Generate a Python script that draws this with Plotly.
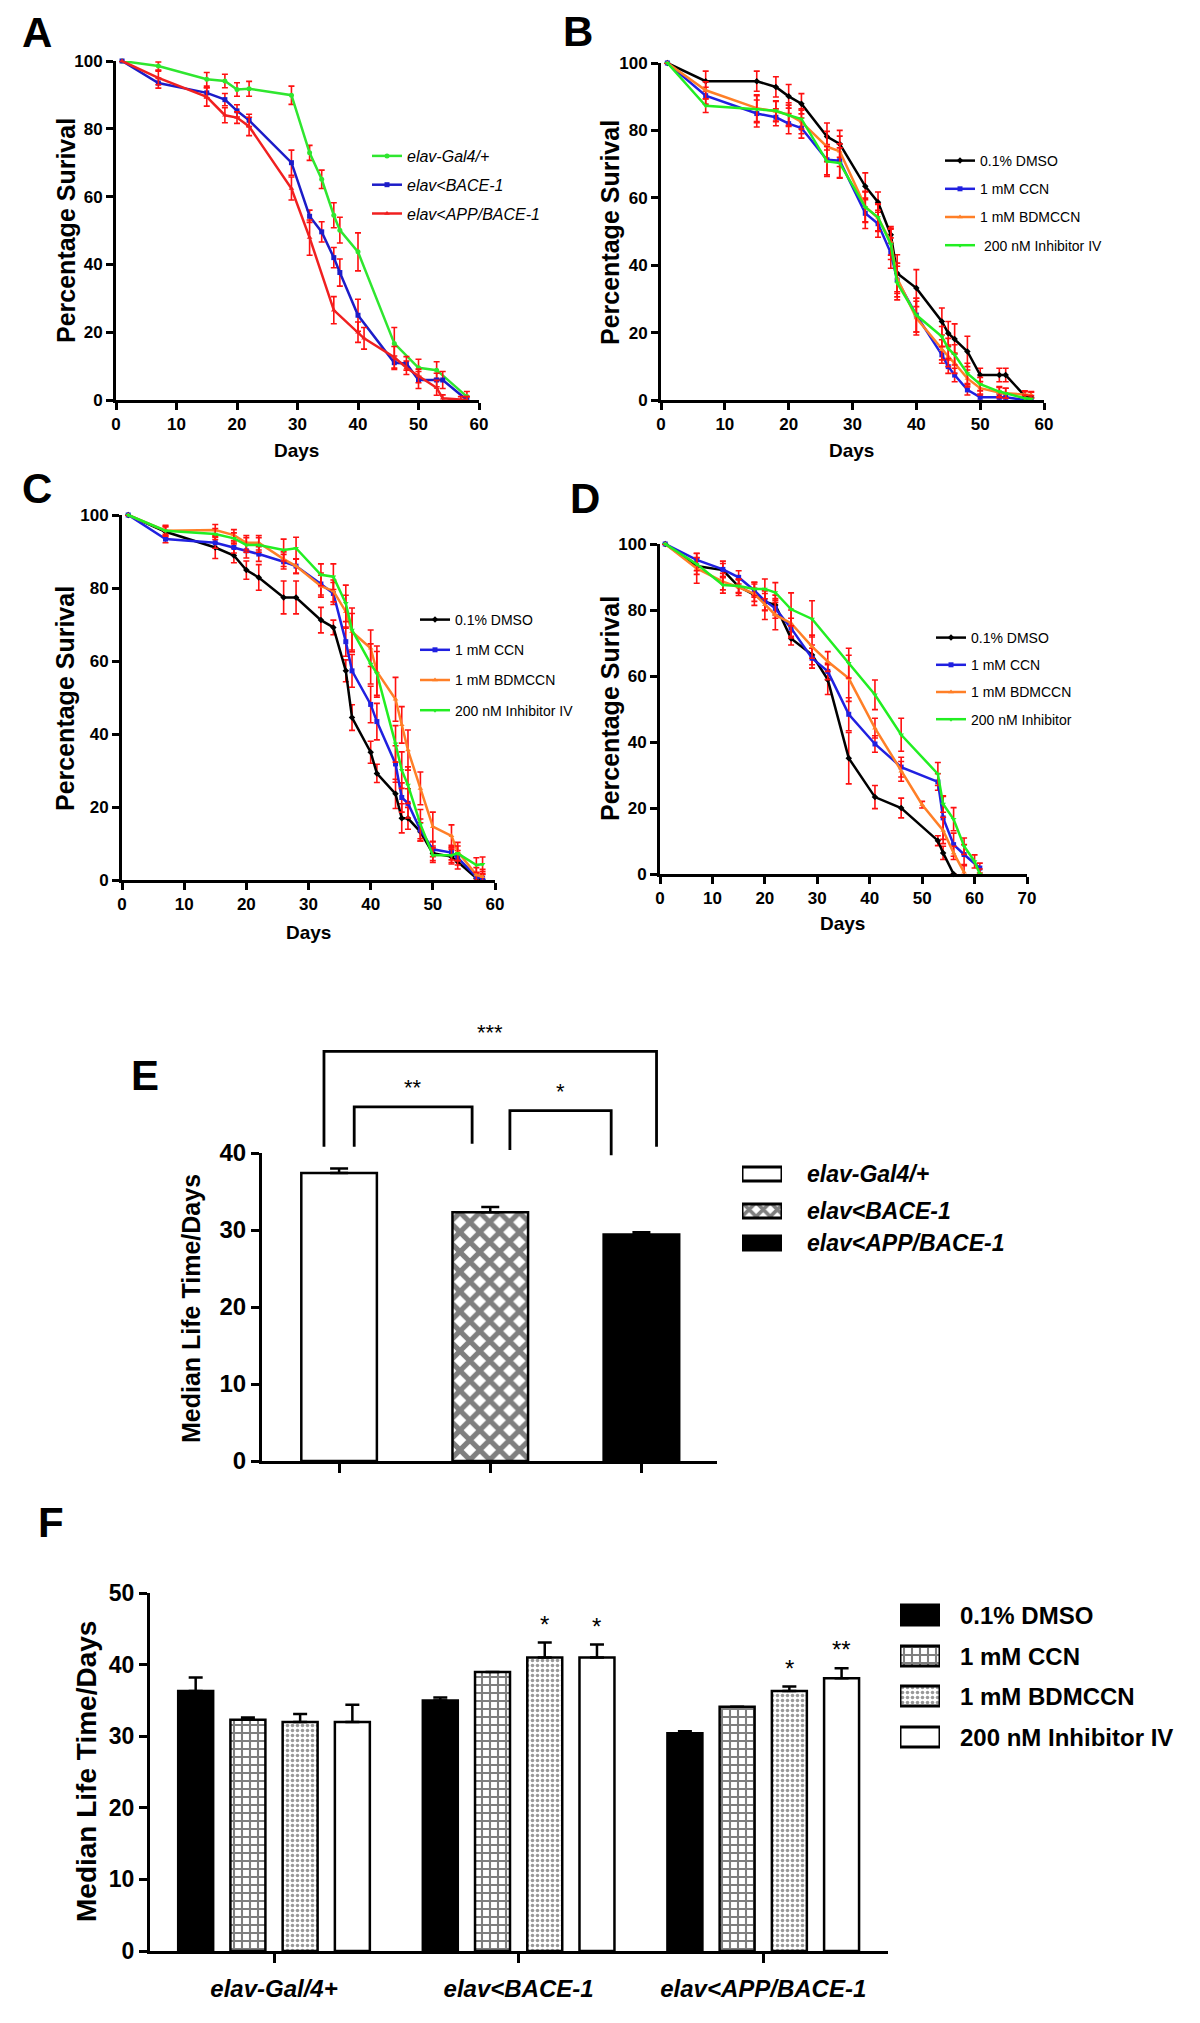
import plotly.graph_objects as go

# ---------------- data ----------------
# Panel A
A_days_gal4 = [1, 7, 15, 18, 20, 22, 29, 32, 34, 36, 37, 40, 46, 50, 53, 58]
A_gal4 = [100, 98.5, 94.6, 94.1, 91.6, 91.8, 89.9, 72.9, 65.1, 54.5, 50.1, 43.7, 16.7, 9.5, 8.8, 1.0]
A_gal4_err = [0, 1.2, 2.0, 2.0, 2.0, 2.2, 2.7, 2.2, 2.7, 3.7, 3.8, 5.6, 4.7, 2.5, 2.5, 1.5]
A_days_bace = [1, 7, 15, 18, 20, 22, 29, 32, 34, 36, 37, 40, 46, 48, 50, 53, 54, 58]
A_bace = [100, 93.5, 90.6, 88.6, 85.3, 82.5, 70.0, 54.2, 49.6, 42.0, 37.6, 25.0, 11.0, 10.8, 5.9, 5.9, 5.9, 0]
A_bace_err = [0, 1.5, 1.5, 1.8, 1.8, 1.8, 3.7, 1.8, 3.0, 3.0, 4.0, 4.7, 2.0, 2.0, 2.5, 2.0, 2.5, 1.0]
A_days_app = [1, 7, 15, 18, 20, 22, 29, 32, 36, 40, 41, 46, 48, 50, 53, 54, 57, 58]
A_app = [100, 95.0, 89.4, 84.0, 83.3, 80.7, 62.4, 47.9, 26.5, 20.0, 18.2, 12.6, 9.5, 7.1, 3.6, 0.5, 0, 0]
A_app_err = [0, 2.0, 2.7, 2.2, 1.7, 2.7, 3.4, 5.2, 4.0, 3.0, 3.2, 3.2, 2.0, 2.0, 2.2, 1.0, 1.0, 1.0]

# Panel B
B_days = [1, 7, 15, 18, 20, 22, 26, 28, 32, 34, 36, 37, 40, 44, 45, 46, 48, 50, 53, 54, 57, 58]
B_dmso = [100, 94.6, 94.6, 92.9, 90.1, 87.9, 78.2, 76.0, 63.4, 58.7, 49.0, 37.6, 33.2, 23.3, 19.8, 18.1, 14.4, 7.4, 7.4, 7.4, 1.2, 0.8]
B_ccn = [100, 90.3, 85.0, 83.9, 82.0, 80.7, 71.3, 71.0, 55.4, 52.3, 43.6, 35.6, 25.2, 13.4, 9.9, 7.4, 3.0, 0.8, 0.8, 0.8, 0, 0]
B_bdm = [100, 91.9, 86.6, 85.6, 84.7, 82.5, 75.2, 73.8, 57.4, 54.0, 47.0, 36.1, 24.3, 14.9, 12.9, 10.9, 6.4, 3.5, 2.2, 2.0, 1.5, 1.5]
B_inh = [100, 87.3, 86.3, 85.8, 84.5, 83.4, 70.8, 70.3, 57.2, 54.2, 46.2, 34.7, 25.2, 18.8, 15.3, 13.4, 7.9, 4.7, 2.5, 2.0, 0.5, 0.3]
B_dmso_err = [0, 3.0, 3.0, 3.0, 3.5, 3.0, 4.0, 4.0, 4.0, 3.0, 2.5, 5.5, 5.5, 4.0, 3.5, 4.5, 4.5, 2.0, 2.0, 2.0, 1.5, 1.5]
B_ccn_err = [0, 2.5, 4.0, 2.5, 3.0, 3.0, 4.5, 5.0, 4.5, 4.0, 4.5, 5.0, 5.0, 2.5, 2.0, 2.0, 1.5, 1.0, 1.0, 1.0, 0.5, 0.5]
B_bdm_err = [0, 2.5, 4.0, 3.0, 3.5, 3.5, 4.5, 4.5, 4.5, 4.0, 4.0, 4.5, 5.0, 3.0, 3.0, 3.0, 2.5, 2.0, 1.5, 1.5, 1.0, 1.0]
B_inh_err = [0, 2.0, 4.0, 3.0, 3.0, 3.0, 4.5, 4.5, 4.5, 4.0, 4.5, 5.0, 5.0, 3.0, 3.0, 3.0, 3.0, 2.0, 1.5, 1.5, 1.0, 1.0]

# Panel C
C_days = [1, 7, 15, 18, 20, 22, 26, 28, 32, 34, 36, 37, 40, 41, 44, 45, 46, 48, 50, 53, 54, 57, 58]
C_dmso = [100, 95.4, 91.1, 88.9, 84.9, 82.9, 77.4, 77.4, 71.2, 69.2, 57.3, 44.5, 35.0, 29.2, 23.6, 16.9, 16.9, 13.2, 7.3, 6.4, 5.0, 0.5, 0.2]
C_ccn = [100, 93.4, 92.4, 91.1, 90.2, 89.3, 87.2, 86.0, 81.1, 78.5, 65.3, 57.3, 48.1, 43.4, 31.8, 22.6, 21.0, 13.7, 8.4, 7.5, 6.1, 0.9, 0.5]
C_bdm = [100, 95.7, 95.9, 94.5, 92.4, 92.4, 87.9, 86.0, 80.5, 79.2, 73.5, 68.0, 63.5, 57.1, 49.5, 42.5, 35.6, 25.1, 14.6, 12.1, 7.8, 1.4, 0.9]
C_inh = [100, 95.7, 94.8, 93.6, 91.8, 91.8, 90.4, 90.9, 83.6, 83.1, 75.8, 68.5, 59.2, 56.6, 37.3, 30.1, 26.0, 15.3, 6.8, 6.8, 7.3, 4.1, 4.3]
C_dmso_err = [0, 1.5, 3, 2, 2.5, 3.5, 4.5, 4.5, 3.5, 2, 3, 3.5, 3, 2.5, 4, 4, 3, 2.5, 2, 2, 2, 1.5, 1.5]
C_ccn_err = [0, 1, 1.5, 1.5, 2, 2, 2, 2, 3, 3, 4, 4.5, 5, 5, 5, 4, 4, 3, 2, 2, 2, 1, 1]
C_bdm_err = [0, 1.5, 1.5, 1.5, 2, 2, 2, 2, 3, 3, 4.5, 5, 5, 7, 6, 5, 5.5, 4.5, 4, 3, 2.5, 2, 2]
C_inh_err = [0, 1, 1.5, 1.5, 2, 2, 3, 3, 3, 3.5, 5, 6, 5.5, 6, 5, 5, 5, 4, 2, 2, 2, 2, 2]

# Panel D
D_days_dmso = [1, 7, 12, 15, 18, 20, 22, 25, 29, 32, 36, 41, 46, 53, 54, 56]
D_dmso = [100, 93.3, 92.1, 87.1, 84.6, 82.5, 81.5, 71.4, 66.4, 58.9, 35.1, 23.3, 20.0, 10.1, 6.4, 0]
D_dmso_err = [0, 2.5, 2.0, 2.0, 2.0, 2.5, 3.0, 2.0, 3.0, 4.5, 7.8, 3.5, 3.0, 1.5, 2.0, 0]
D_days_ccn = [1, 7, 12, 15, 18, 20, 22, 25, 29, 32, 36, 41, 46, 53, 54, 56, 58, 61]
D_ccn = [100, 95.2, 92.3, 89.9, 85.9, 82.8, 80.5, 74.5, 65.4, 61.4, 48.4, 39.4, 32.4, 27.9, 17.0, 8.9, 5.9, 1.8]
D_ccn_err = [0, 2.0, 2.5, 2.0, 2.0, 3.0, 3.0, 3.0, 3.0, 2.5, 5.0, 2.5, 3.0, 2.5, 6.5, 3.5, 3.0, 1.5]
D_days_bdm = [1, 7, 12, 15, 18, 20, 22, 25, 29, 32, 36, 41, 46, 50, 54, 56, 58]
D_bdm = [100, 92.6, 88.6, 86.9, 84.9, 81.6, 78.5, 76.0, 68.9, 64.4, 59.3, 44.2, 31.1, 21.0, 13.2, 6.4, 0.5]
D_bdm_err = [0, 4.5, 2.5, 2.5, 3.5, 4.5, 4.5, 4.0, 3.5, 3.0, 7.0, 3.0, 3.0, 1.0, 4.0, 2.0, 2.0]
D_days_inh = [1, 7, 12, 15, 18, 20, 22, 25, 29, 36, 41, 46, 53, 54, 56, 58, 60, 61]
D_inh = [100, 93.9, 87.6, 87.3, 86.4, 86.4, 85.3, 80.2, 77.3, 63.9, 54.3, 42.2, 30.3, 21.2, 16.6, 8.4, 3.8, 0]
D_inh_err = [0, 2.0, 2.5, 2.0, 2.0, 3.0, 3.0, 5.0, 5.5, 4.5, 4.5, 5.0, 3.5, 2.5, 3.5, 2.5, 2.0, 1.5]

# Panel E
E_groups = ["elav-Gal4/+", "elav<BACE-1", "elav<APP/BACE-1"]
E_median = [37.4, 32.3, 29.4]
E_err = [0.6, 0.7, 0.3]

# Panel F
F_groups = ["elav-Gal/4+", "elav<BACE-1", "elav<APP/BACE-1"]
F_treatments = ["0.1% DMSO", "1 mM CCN", "1 mM BDMCCN", "200 nM Inhibitor IV"]
F_dmso = [36.3, 35.0, 30.4]
F_dmso_err = [1.9, 0.4, 0.3]
F_ccn = [32.3, 38.95, 34.1]
F_ccn_err = [0.3, 0.0, 0.0]
F_bdm = [32.0, 41.0, 36.3]
F_bdm_err = [1.1, 2.1, 0.65]
F_inh = [32.0, 41.0, 38.1]
F_inh_err = [2.4, 1.8, 1.4]
F_sig = [["", "", "", ""], ["", "", "*", "*"], ["", "", "*", "**"]]

# ---------------- layout helpers ----------------
OFF = 8
FW, FH = 1200 - 2 * OFF, 2023 - 2 * OFF


def px(x):
    return (x - OFF) / FW


def py(y):
    return 1 - (y - OFF) / FH


SANS = "Liberation Sans, Arial, Helvetica, sans-serif"

fig = go.Figure()
layout_axes = {}
legends = {}
shapes = []
annotations = []


def axis_common(**kw):
    d = dict(showline=True, linecolor="black", linewidth=3, ticks="outside", ticklen=7,
             tickwidth=2.5, tickcolor="black", showgrid=False, zeroline=False,
             tickfont=dict(family=SANS, size=17, color="black", weight="bold"),
             fixedrange=True)
    d.update(kw)
    return d


line_panels = [
    # key, x px, y px, xmax, legend id, legend pos, legend font, legend gap, series
    ("A", (116, 479), (61, 400), 60, "legend", (367, 139), dict(family=SANS, size=16, style="italic"), 5,
     [("elav-Gal4/+", A_days_gal4, A_gal4, A_gal4_err, "#2fe62f", "circle"),
      ("elav<BACE-1", A_days_bace, A_bace, A_bace_err, "#1c1cc8", "square"),
      ("elav<APP/BACE-1", A_days_app, A_app, A_app_err, "#f02020", "triangle-up")]),
    ("B", (661, 1044), (63, 400), 60, "legend2", (940, 145), dict(family=SANS, size=14), 7,
     [("0.1% DMSO", B_days, B_dmso, B_dmso_err, "black", "diamond"),
      ("1 mM CCN", B_days, B_ccn, B_ccn_err, "#2020e0", "square"),
      ("1 mM BDMCCN", B_days, B_bdm, B_bdm_err, "#ff7f27", "triangle-up"),
      (" 200 nM Inhibitor IV", B_days, B_inh, B_inh_err, "#22ee22", "triangle-down")]),
    ("C", (122, 495), (515, 880), 60, "legend3", (415, 604), dict(family=SANS, size=14), 9,
     [("0.1% DMSO", C_days, C_dmso, C_dmso_err, "black", "diamond"),
      ("1 mM CCN", C_days, C_ccn, C_ccn_err, "#2020e0", "square"),
      ("1 mM BDMCCN", C_days, C_bdm, C_bdm_err, "#ff7f27", "triangle-up"),
      ("200 nM Inhibitor IV", C_days, C_inh, C_inh_err, "#22ee22", "triangle-down")]),
    ("D", (660, 1027), (544, 874), 70, "legend4", (931, 622), dict(family=SANS, size=14), 6,
     [("0.1% DMSO", D_days_dmso, D_dmso, D_dmso_err, "black", "diamond"),
      ("1 mM CCN", D_days_ccn, D_ccn, D_ccn_err, "#2020e0", "square"),
      ("1 mM BDMCCN", D_days_bdm, D_bdm, D_bdm_err, "#ff7f27", "triangle-up"),
      ("200 nM Inhibitor", D_days_inh, D_inh, D_inh_err, "#22ee22", "triangle-down")]),
]

for i, (key, xp, yp, xmax, leg, lpos, lfont, lgap, series) in enumerate(line_panels):
    n = i + 1
    xa = "x" if n == 1 else f"x{n}"
    ya = "y" if n == 1 else f"y{n}"
    for j, (name, days, vals, err, color, sym) in enumerate(series):
        fig.add_trace(go.Scatter(
            x=days, y=vals, mode="lines+markers", name=name,
            line=dict(color=color, width=2.5),
            marker=dict(color=color, size=5, symbol=sym),
            error_y=dict(type="data", array=err, color="#ff1010", thickness=1.6, width=3),
            xaxis=xa, yaxis=ya, legend=leg, legendgroup=f"{key}{j}", cliponaxis=False))
    layout_axes["xaxis" if n == 1 else f"xaxis{n}"] = axis_common(
        domain=[px(xp[0]), px(xp[1])], range=[0, xmax], dtick=10, anchor=ya)
    layout_axes["yaxis" if n == 1 else f"yaxis{n}"] = axis_common(
        domain=[py(yp[1]), py(yp[0])], range=[0, 100], dtick=20, anchor=xa)
    lf = dict(color="black")
    lf.update(lfont)
    legends[leg] = dict(x=px(lpos[0]), y=py(lpos[1]), xanchor="left", yanchor="top",
                        bgcolor="rgba(0,0,0,0)", font=lf, traceorder="grouped",
                        tracegroupgap=lgap)


def box_legend(n, x0, x1, rows, h, names, markers, text_x, font):
    """Legend drawn as patterned boxes on a hidden pixel-scaled axis pair, with text labels."""
    xa, ya = f"x{n}", f"y{n}"
    top, bot = rows[0] - h, rows[-1] + h
    layout_axes[f"xaxis{n}"] = dict(domain=[px(x0), px(x1)], range=[0, 1], visible=False,
                                    fixedrange=True, anchor=ya)
    layout_axes[f"yaxis{n}"] = dict(domain=[py(bot), py(top)], range=[bot, top], visible=False,
                                    fixedrange=True, anchor=xa)
    for name, rc, mk in zip(names, rows, markers):
        m = dict(mk)
        m["line"] = dict(color="black", width=3)
        fig.add_trace(go.Bar(x=[0.5], y=[h], base=[rc - h / 2], width=1, offset=-0.5, marker=m,
                             xaxis=xa, yaxis=ya, showlegend=False, hoverinfo="skip", cliponaxis=False))
        annotations.append(dict(x=px(text_x), y=py(rc), xref="paper", yref="paper", text=name,
                                xanchor="left", yanchor="middle", showarrow=False, font=font))


# ---------------- Panel E ----------------
E_xp, E_yp = (262, 717), (1153, 1461)
E_xr, E_ymax = (-0.51, 2.5), 40
E_markers = [
    dict(color="white"),
    dict(color="white", pattern=dict(shape="x", fgcolor="black", bgcolor="white", size=14, solidity=0.6)),
    dict(color="black"),
]
for k, g in enumerate(E_groups):
    mk = dict(E_markers[k])
    mk["line"] = dict(color="black", width=2.5)
    fig.add_trace(go.Bar(
        x=[g], y=[E_median[k]], name=g, marker=mk, width=0.5, offset=-0.25,
        error_y=dict(type="data", array=[E_err[k]], arrayminus=[0], symmetric=False,
                     color="black", thickness=2.5, width=9),
        xaxis="x5", yaxis="y5", showlegend=False))
layout_axes["xaxis5"] = axis_common(domain=[px(E_xp[0]), px(E_xp[1])], range=list(E_xr),
                                    type="category", categoryorder="array", categoryarray=E_groups,
                                    showticklabels=False, ticklen=9, anchor="y5")
layout_axes["yaxis5"] = axis_common(domain=[py(E_yp[1]), py(E_yp[0])], range=[0, E_ymax], dtick=10,
                                    anchor="x5", ticklen=8,
                                    tickfont=dict(family=SANS, size=24, color="black", weight="bold"))
E_leg_markers = [
    dict(color="white"),
    dict(color="white", pattern=dict(shape="x", fgcolor="black", bgcolor="white", size=10, solidity=0.6)),
    dict(color="black"),
]
box_legend(7, 742, 782, [1174, 1211, 1243], 14, E_groups, E_leg_markers, 805,
           dict(family=SANS, size=23, color="black", style="italic", weight="bold"))


def ex(v):
    d0, d1 = px(E_xp[0]), px(E_xp[1])
    return d0 + (v - E_xr[0]) / (E_xr[1] - E_xr[0]) * (d1 - d0)


def ey(v):
    d0, d1 = py(E_yp[1]), py(E_yp[0])
    return d0 + v / E_ymax * (d1 - d0)


# significance brackets: (left, right, top, left-bottom, right-bottom, label)
E_brackets = [(-0.1, 2.1, 53.2, 40.8, 40.8, "***"),
              (0.1, 0.88, 46.0, 40.8, 41.2, "**"),
              (1.13, 1.8, 45.5, 40.4, 39.7, "*")]
for (l, r, top, lb, rb, lab) in E_brackets:
    path = f"M{ex(l)},{ey(lb)} L{ex(l)},{ey(top)} L{ex(r)},{ey(top)} L{ex(r)},{ey(rb)}"
    shapes.append(dict(type="path", path=path, xref="paper", yref="paper",
                       line=dict(color="black", width=2.8)))
    annotations.append(dict(x=(ex(l) + ex(r)) / 2, y=ey(top + 0.6), xref="paper", yref="paper",
                            text=lab, showarrow=False, xanchor="center", yanchor="bottom",
                            font=dict(family=SANS, size=22, color="black")))

# ---------------- Panel F ----------------
F_xp, F_yp = (150, 888), (1593, 1951)
F_markers = [dict(color="black"),
             dict(color="white", pattern=dict(shape="+", fgcolor="black", bgcolor="white", size=8, solidity=0.45)),
             dict(color="white", pattern=dict(shape=".", fgcolor="#333333", bgcolor="white", size=5, solidity=0.4)),
             dict(color="white")]
F_series = [(F_dmso, F_dmso_err), (F_ccn, F_ccn_err), (F_bdm, F_bdm_err), (F_inh, F_inh_err)]
F_slot, F_w = 0.2135, 0.143
for t, (vals, err) in enumerate(F_series):
    m = dict(F_markers[t])
    m["line"] = dict(color="black", width=2.5)
    off = (t - 1.5) * F_slot - F_w / 2
    fig.add_trace(go.Bar(
        x=F_groups, y=vals, name=F_treatments[t], marker=m, width=F_w, offset=off,
        error_y=dict(type="data", array=err, arrayminus=[0] * len(err), symmetric=False,
                     color="black", thickness=2.5, width=7),
        xaxis="x6", yaxis="y6", showlegend=False))
    for g in range(len(F_groups)):
        if F_sig[g][t]:
            annotations.append(dict(x=g + (t - 1.5) * F_slot, y=vals[g] + err[g] + 0.4,
                                    xref="x6", yref="y6", text=F_sig[g][t], showarrow=False,
                                    xanchor="center", yanchor="bottom",
                                    font=dict(family=SANS, size=24, color="black")))
layout_axes["xaxis6"] = axis_common(domain=[px(F_xp[0]), px(F_xp[1])], range=[-0.507, 2.51],
                                    type="category", ticklen=9, anchor="y6", ticklabelstandoff=5,
                                    tickfont=dict(family=SANS, size=24, color="black", weight="bold", style="italic"))
layout_axes["yaxis6"] = axis_common(domain=[py(F_yp[1]), py(F_yp[0])], range=[0, 50], dtick=10,
                                    anchor="x6", ticklen=8,
                                    tickfont=dict(family=SANS, size=23, color="black", weight="bold"))
F_leg_markers = [dict(color="black"),
                 dict(color="white", pattern=dict(shape="+", fgcolor="black", bgcolor="white", size=8, solidity=0.45)),
                 dict(color="white", pattern=dict(shape=".", fgcolor="#333333", bgcolor="white", size=5, solidity=0.4)),
                 dict(color="white")]
box_legend(8, 900, 940, [1615, 1656, 1696, 1737], 20, F_treatments, F_leg_markers, 958,
           dict(family=SANS, size=24, color="black", weight="bold"))

# ---------------- text annotations (panel letters, axis titles) ----------------
letters = [("A", 37, 33), ("B", 578, 32), ("C", 37, 488), ("D", 585, 499), ("E", 145, 1075), ("F", 51, 1522)]
for t, x, y in letters:
    annotations.append(dict(x=px(x), y=py(y), xref="paper", yref="paper", text=t, showarrow=False,
                            xanchor="center", yanchor="middle",
                            font=dict(family=SANS, size=42, color="black", weight="bold")))

ytitles = [("Percentage Surival", 66, 231, 25), ("Percentage Surival", 610, 233, 25),
           ("Percentage Surival", 65, 699, 25), ("Percentage Surival", 610, 709, 25),
           ("Median Life Time/Days", 191, 1309, 25), ("Median Life Time/Days", 86, 1771, 28)]
for t, x, y, s in ytitles:
    annotations.append(dict(x=px(x), y=py(y), xref="paper", yref="paper", text=t, showarrow=False,
                            textangle=-90, xanchor="center", yanchor="middle",
                            font=dict(family=SANS, size=s, color="black", weight="bold")))

xtitles = [("Days", 296, 450), ("Days", 851, 450), ("Days", 308, 933), ("Days", 842, 923)]
for t, x, y in xtitles:
    annotations.append(dict(x=px(x), y=py(y), xref="paper", yref="paper", text=t, showarrow=False,
                            xanchor="center", yanchor="middle",
                            font=dict(family=SANS, size=19, color="black", weight="bold")))

fig.update_layout(
    width=FW, height=FH, autosize=False,
    margin=dict(l=0, r=0, t=0, b=0, pad=0, autoexpand=False),
    paper_bgcolor="white", plot_bgcolor="white",
    showlegend=True, shapes=shapes, annotations=annotations,
    **layout_axes, **legends)

fig.write_html("out.html")
